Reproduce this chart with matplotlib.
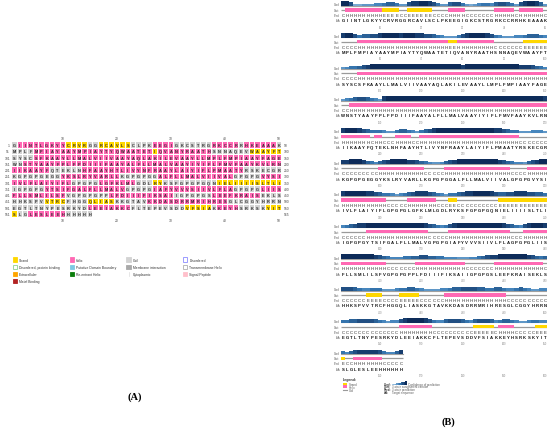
import matplotlib
matplotlib.use("Agg")
import matplotlib.pyplot as plt
from matplotlib.patches import Rectangle
from matplotlib.colors import LinearSegmentedColormap

plt.rcParams['font.family'] = ['Liberation Sans', 'DejaVu Sans']

# ---------------- data ----------------
aa_blocks = [
    "GIINTLGKYYCRVRGGRCAVLSCLPKEEGIGKCSTRGRKCCRRHKEAAAK",
    "MPLFMPIAYAAYMPIAYTYQWAATETIQVANYRAATHSNNAQEVWAAYFT",
    "SYSCSFKAAYLLMALVIIVAAYAQLAKILEVAAYLLMPLFMPIAAYFAGE",
    "WNSTYAAYFPLFPDIIIFAAYALFLLMALVAAYIYIFLFMVFAAYKVLRN",
    "IIKAAYFQTEKLNHFAAYHTLIVYNFRAAYLAIYIFLPMAATYRSKECGR",
    "KGPGPGEGGYKSLRYVARLLKGPGPGGALFLLMALVIIVALGPGPGVYSI",
    "IVLFLAIYIFLGPGPGLGFKLMLGDLRYKSFGPGPGQNIELIIIISLTLI",
    "IGPGPGYTSIFGALFLLMALVGPGPGIAFYVVVSIIVLFLAGPGPGLIIS",
    "FLLSMLILSFVGPGPGPPLFDIIIFIKSAIIGPGPGSLEEFKRAISEKLS",
    "HHKSPVVTRCFHGGQLIASKKGTAVKKDASDRRMRIHRESGLCGGYHRRN",
    "EGTLTNYPESRKYDLEEIAKKCFLTEPEVSDDVFSIAKKEYHSRKSKYIT",
    "SLGLESLEEHHHHHH",
]

# panel A secondary structure (run-length: state + count)
ss_panelA = [
    "C1 H9 E4 C2 E6 C4 H4 C7 H5 C1 H6 C1",
    "C4 H22 E1 H10 C7 E6",
    "C4 H46",
    "C2 H48",
    "H7 C6 H30 C7",
    "C9 H11 C7 H14 C5 H4",
    "H11 C5 H7 C3 E2 C10 E12",
    "C6 H15 C5 H15 C5 H4",
    "H10 C8 H12 C7 H9 C4",
    "C6 E4 C4 E5 C6 H15 C10",
    "C14 H8 C10 E5 C1 H4 C5 E3",
    "E1 C2 H7 C5",
]

# panel B (PSIPRED) prediction per block
ss_panelB = [
    "C1 H9 E4 C2 E6 C4 H4 C7 H5 C1 H6 C1",
    "C4 H22 E2 H9 C7 E6",
    "C4 H46",
    "C2 H48",
    "H7 C1 H2 C3 H4 C2 H24 C7",
    "C9 H11 C5 H16 C4 H5",
    "H11 C5 H7 C3 E2 C10 E12",
    "C6 H15 C5 H15 C3 H6",
    "H11 C7 H12 C7 H12 C1",
    "C6 E4 C4 E5 C6 H15 C10",
    "C14 H8 C10 E5 C1 H4 C5 E3",
    "E1 C2 H7 C5",
]

# confidence (0-9) per residue
conf_blocks = [
    "997" "223334" "4" "5665" "33" "788998" "7533" "6775" "3234554" "67765" "3" "789986" "3",
    "8997" "566778" "999989998877" "6543" "33" "578999987" "5433344" "566654",
    "3455" "6789" "9999999999" "9999999999" "9899999999" "99" "9998887654",
    "34" "56776543" "8999999999" "9999999999" "9999999999" "9999999998",
    "8999876" "5" "55" "433" "5665" "43" "567899999999" "999999887655" "3334443",
    "889998654" "67899998876" "54334" "6789999999999876" "5443" "67899",
    "89999988765" "54345" "6788876" "543" "55" "6788999987" "667788877665",
    "456788" "999999999999998" "76545" "789999999999987" "654" "789998",
    "99999999876" "5444556" "677665544433" "3445678" "899999998765" "6",
    "777654" "4555" "3334" "55665" "433334" "456677776655665" "4456543344",
    "55667777654344" "78999987" "5446777654" "67776" "4" "5665" "43345" "544",
    "54" "6788888" "7" "544" "68",
]

legendA_labels = ["Strand", "Helix", "Coil", "Disordered",
                  "Disordered, protein binding", "Putative Domain Boundary",
                  "Membrane interaction", "Transmembrane Helix",
                  "Extracellular", "Re-entrant Helix", "Cytoplasmic",
                  "Signal Peptide", "Metal Binding"]
legendA_face = ["#FFD700", "#FF69B4", "#D3D3D3", "white",
                "white", "#7EC8E3", "#A9A9A9", "white",
                "#FFA500", "#0A7D0A", "white", "#FFC0CB", "#B22222"]
legendA_edge = ["#FFD700", "#FF69B4", "#D3D3D3", "#8C8CFF",
                "#8FD18F", "#7EC8E3", "#A9A9A9", "#B0B0B0",
                "#FFA500", "#0A7D0A", "#FFFFFF", "#FFC0CB", "#B22222"]

legendB_ss = ["Strand", "Helix", "Coil"]
legendB_keys = ["Conf:", "Cart:", "Pred:", "AA:"]
legendB_desc = ["Confidence of prediction", "3-state assignment cartoon",
                "3-state prediction", "Target sequence"]
row_labels_B = ["Conf:", "Cart:", "Pred:", "AA:"]

SS_COL = {"H": "#FF69B4", "E": "#FFD700", "C": "#D3D3D3"}


def expand(rle):
    out = []
    for tok in rle.split():
        out += [tok[0]] * int(tok[1:])
    return out


def runs(states):
    res = []
    start = 0
    for i in range(1, len(states) + 1):
        if i == len(states) or states[i] != states[start]:
            res.append((states[start], start + 1, i))
            start = i
    return res


# ---------------- figure ----------------
W, H = 550, 431
fig = plt.figure(figsize=(5.5, 4.31), dpi=100)
fig.patch.set_facecolor("white")


def px_axes(left, top, width, height):
    ax = fig.add_axes([left / W, 1 - (top + height) / H, width / W, height / H])
    ax.set_axis_off()
    return ax


# ---------------- panel A ----------------
cw, rh = 5.4, 6.27
axA = px_axes(11.7, 142.9, 50 * cw, 12 * rh)
axA.set_xlim(0.5, 50.5)
axA.set_ylim(12.5, 0.5)
for r, (seq, ss) in enumerate(zip(aa_blocks, ss_panelA)):
    states = expand(ss)
    y = r + 1
    for i, (ch, s) in enumerate(zip(seq, states)):
        x = i + 1
        axA.add_patch(Rectangle((x - 0.42, y - 0.42), 0.84, 0.84,
                                facecolor=SS_COL[s], edgecolor="none"))
        axA.text(x, y, ch, ha="center", va="center", fontsize=2.8,
                 color="#2A2A2A", fontweight="bold")
    axA.text(0.2, y, str(50 * r + 1), ha="right", va="center",
             fontsize=2.4, color="#444444", clip_on=False)
    axA.text(50.95, y, str(50 * r + len(seq)), ha="left", va="center",
             fontsize=2.4, color="#444444", clip_on=False)
for t in range(10, 51, 10):
    axA.text(t, -0.07, str(t), ha="center", va="center", fontsize=2.4,
             color="#444444", clip_on=False)
    axA.text(t, 12.92, str(t), ha="center", va="center", fontsize=2.4,
             color="#444444", clip_on=False)

# legend A
axLA = px_axes(13, 257, 4 * 56.7, 4 * 7.1)
axLA.set_xlim(0, 4)
axLA.set_ylim(4, 0)
mw, mh = 4.2 / 56.7, 4.2 / 7.1
for k, (lab, fc, ec) in enumerate(zip(legendA_labels, legendA_face, legendA_edge)):
    c, r = k % 4, k // 4
    if lab == "Cytoplasmic":
        axLA.plot([c + mw * 0.5, c + mw * 0.5], [r + 0.5 - mh / 2, r + 0.5 + mh / 2],
                  color="#DDDDDD", lw=0.5)
    else:
        axLA.add_patch(Rectangle((c, r + 0.5 - mh / 2), mw, mh, facecolor=fc,
                                 edgecolor=ec, lw=0.6))
    axLA.text(c + 6.2 / 56.7, r + 0.5, lab, ha="left", va="center",
              fontsize=2.4, color="#333333")

# ---------------- panel B ----------------
dx = 4.13
x0 = 343.0 - dx / 2
cmap = LinearSegmentedColormap.from_list("conf", ["#A9CBE6", "#3A7DB8", "#0D2B59"])
for k, (seq, ss, cf) in enumerate(zip(aa_blocks, ss_panelB, conf_blocks)):
    top = 2.0 + 31.66 * k
    ax = px_axes(x0, top, 50 * dx, 28)
    ax.set_xlim(0.5, 50.5)
    ax.set_ylim(28, 0)
    n = len(seq)
    states = expand(ss)
    xs = list(range(1, n + 1))
    # confidence bars
    vals = [int(v) for v in cf][:n]
    ax.plot([0.5, n + 0.5], [4.6, 4.6], color="#A0A0A0", lw=0.8, zorder=1)
    ax.bar(xs[:len(vals)], [-(v + 1) / 10 * 5.0 for v in vals], bottom=5.0,
           width=1.0, color=[cmap(v / 9) for v in vals], linewidth=0, zorder=2)
    # cartoon
    ax.plot([0.5, n + 0.5], [9.0, 9.0], color="#9A9A9A", lw=0.9,
            solid_capstyle="butt", zorder=1)
    for s, a, b in runs(states):
        if s != "C":
            ax.add_patch(Rectangle((a - 0.5, 9.0 - 1.7), b - a + 1, 3.4,
                                   facecolor=SS_COL[s], edgecolor="none", zorder=2))
    # text rows
    for i, (ch, s) in enumerate(zip(seq, states)):
        ax.text(i + 1, 14.0, s, ha="center", va="center", fontsize=3.1,
                color="#222222")
        ax.text(i + 1, 19.3, ch, ha="center", va="center", fontsize=3.1,
                color="#111111", fontweight="bold")
    for lab, yy in zip(row_labels_B, [3.3, 9.0, 14.0, 19.3]):
        ax.text(0.25, yy, lab, ha="right", va="center", fontsize=1.9,
                color="#555555", clip_on=False)
    for t in range(10, 51, 10):
        ax.text(t, 25.8, str(50 * k + t), ha="center", va="center",
                fontsize=1.9, color="#888888", clip_on=False)

# legend B
axLB = px_axes(340, 376, 210, 22)
axLB.set_xlim(340, 550)
axLB.set_ylim(398, 376)
axLB.text(343, 379.6, "Legend:", ha="left", va="center", fontsize=2.6,
          fontweight="bold", color="#333333")
for j, lab in enumerate(legendB_ss):
    yy = 385.0 + 2.9 * j
    if lab == "Coil":
        axLB.plot([343.3, 347.3], [yy, yy], color="#9A9A9A", lw=0.8)
    else:
        col = SS_COL["E"] if lab == "Strand" else SS_COL["H"]
        axLB.add_patch(Rectangle((343.3, yy - 1.5), 4.0, 3.0, facecolor=col,
                                 edgecolor="none"))
    axLB.text(349, yy, lab, ha="left", va="center", fontsize=2.1, color="#555555")
for j, (key, desc) in enumerate(zip(legendB_keys, legendB_desc)):
    yy = 384.6 + 2.7 * j
    axLB.text(384, yy, key, ha="left", va="center", fontsize=2.1,
              fontweight="bold", color="#333333")
    xt = 392.3
    if j == 0:
        for q in range(10):
            hq = 0.4 + 0.3 * q
            axLB.add_patch(Rectangle((392.0 + 1.5 * q, yy + 0.9 - hq), 1.5, hq,
                                     facecolor=cmap(q / 9), edgecolor="none"))
        xt = 408.0
    axLB.text(xt, yy, desc, ha="left", va="center", fontsize=2.1, color="#555555")

# panel labels
fig.text(135 / W, 1 - 397 / H, "(A)", ha="center", va="center",
         fontsize=7.5, fontweight="bold", family="Liberation Serif")
fig.text(448 / W, 1 - 422 / H, "(B)", ha="center", va="center",
         fontsize=7.5, fontweight="bold", family="Liberation Serif")

fig.savefig("out.png", dpi=100, facecolor="white")
